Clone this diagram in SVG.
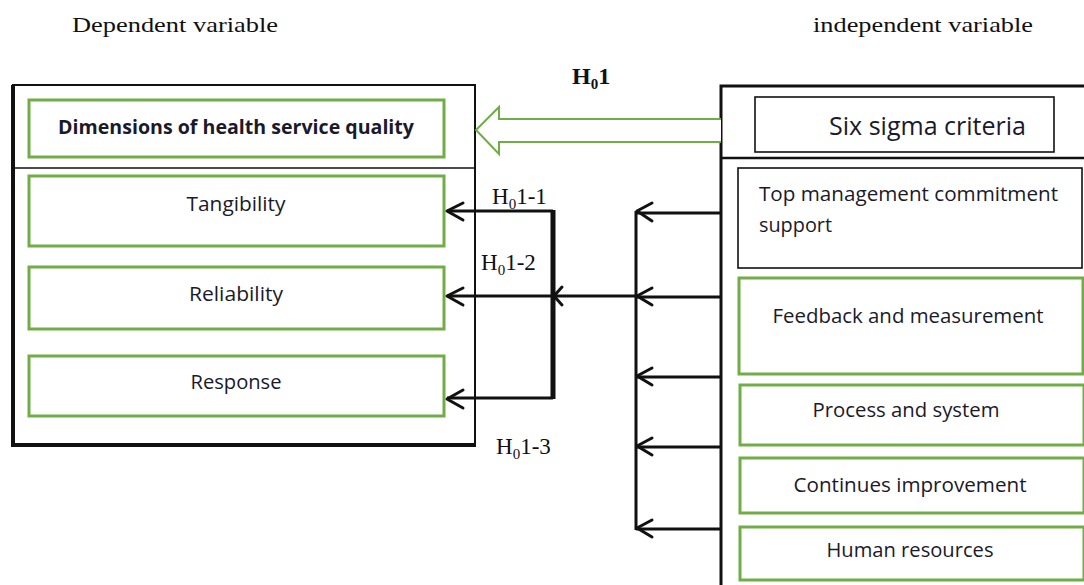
<svg xmlns="http://www.w3.org/2000/svg" width="1084" height="585" viewBox="0 0 1084 585">
  <defs>
    <style>
      .cap { font-family: "Liberation Serif", "Times New Roman", serif; font-size: 21px; fill: #111; }
      .hyp { font-family: "Liberation Serif", "Times New Roman", serif; font-size: 23px; fill: #111; }
      .hyp-b { font-family: "Liberation Serif", "Times New Roman", serif; font-size: 24px; font-weight: bold; fill: #111; }
      .sub { font-size: 15px; }
      .lbl { font-family: "Open Sans", Lato, "Liberation Sans", sans-serif; font-size: 20px; fill: #1a1a2a; }
      .lbl-b { font-family: "Open Sans", Lato, "Liberation Sans", sans-serif; font-size: 20px; font-weight: bold; fill: #1a1a2a; }
      .big { font-family: "Open Sans", Lato, "Liberation Sans", sans-serif; font-size: 26px; fill: #1a1a2a; }
      .gbox { fill: #fff; stroke: #70ad47; stroke-width: 3; }
      .kbox { fill: #fff; stroke: #111; stroke-width: 1.6; }
      .wire { fill: none; stroke: #111; stroke-width: 3; }
      .head { fill: none; stroke: #111; stroke-width: 3; stroke-linecap: round; stroke-linejoin: round; }
    </style>
  </defs>

  <!-- column captions -->
  <text class="cap" x="72" y="32" textLength="206" lengthAdjust="spacingAndGlyphs">Dependent variable</text>
  <text class="cap" x="813" y="32" textLength="220" lengthAdjust="spacingAndGlyphs">independent variable</text>

  <!-- dependent side frame -->
  <g id="dependent-frame">
    <rect x="13" y="85" width="462" height="360" fill="#fff" stroke="#111" stroke-width="2"/>
    <path d="M13 85 V446" stroke="#111" stroke-width="4"/>
    <path d="M11 445 H476" stroke="#111" stroke-width="4"/>
    <path d="M13 168 H475" stroke="#111" stroke-width="1.6"/>
  </g>

  <g id="node-dimensions">
    <rect class="gbox" x="29" y="100" width="415" height="57"/>
    <text class="lbl-b" x="236" y="134" text-anchor="middle" textLength="356" lengthAdjust="spacingAndGlyphs">Dimensions of health service quality</text>
  </g>
  <g id="node-tangibility">
    <rect class="gbox" x="29" y="176" width="415" height="70"/>
    <text class="lbl" x="236" y="211" text-anchor="middle" textLength="99" lengthAdjust="spacingAndGlyphs">Tangibility</text>
  </g>
  <g id="node-reliability">
    <rect class="gbox" x="29" y="267" width="415" height="62"/>
    <text class="lbl" x="236" y="301" text-anchor="middle" textLength="94" lengthAdjust="spacingAndGlyphs">Reliability</text>
  </g>
  <g id="node-response">
    <rect class="gbox" x="29" y="356" width="415" height="60"/>
    <text class="lbl" x="236" y="389" text-anchor="middle" textLength="91" lengthAdjust="spacingAndGlyphs">Response</text>
  </g>

  <!-- independent side frame -->
  <g id="independent-frame">
    <path d="M721 585 V86 H1084" fill="none" stroke="#111" stroke-width="3"/>
    <path d="M721 158 H1084" stroke="#111" stroke-width="2.5"/>
  </g>

  <g id="node-six-sigma">
    <rect class="kbox" x="755" y="97" width="299" height="55"/>
    <text class="big" x="829" y="135" textLength="197" lengthAdjust="spacingAndGlyphs">Six sigma criteria</text>
  </g>
  <g id="node-top-management">
    <rect class="kbox" x="738" y="168" width="344" height="100"/>
    <text class="lbl" x="759" y="201" textLength="299" lengthAdjust="spacingAndGlyphs">Top management commitment</text>
    <text class="lbl" x="759" y="232" textLength="73" lengthAdjust="spacingAndGlyphs">support</text>
  </g>
  <g id="node-feedback">
    <rect class="gbox" x="739" y="278" width="344" height="96"/>
    <text class="lbl" x="908" y="323" text-anchor="middle" textLength="271" lengthAdjust="spacingAndGlyphs">Feedback and measurement</text>
  </g>
  <g id="node-process">
    <rect class="gbox" x="740" y="385" width="344" height="60"/>
    <text class="lbl" x="906" y="417" text-anchor="middle" textLength="187" lengthAdjust="spacingAndGlyphs">Process and system</text>
  </g>
  <g id="node-improvement">
    <rect class="gbox" x="740" y="458" width="344" height="55"/>
    <text class="lbl" x="910" y="492" text-anchor="middle" textLength="233" lengthAdjust="spacingAndGlyphs">Continues improvement</text>
  </g>
  <g id="node-human">
    <rect class="gbox" x="740" y="527" width="344" height="53"/>
    <text class="lbl" x="910" y="557" text-anchor="middle" textLength="167" lengthAdjust="spacingAndGlyphs">Human resources</text>
  </g>

  <!-- connectors -->
  <g id="connectors">
    <!-- main hypothesis: hollow block arrow -->
    <path d="M721 119 H499 V107 L476 130 L499 154 V142 H721" fill="#fff" stroke="#70ad47" stroke-width="2"/>

    <!-- criteria feeders into the collecting bus -->
    <path class="wire" d="M636 211 V530"/>
    <path class="wire" d="M720 213 H636"/>
    <path class="wire" d="M720 297 H636"/>
    <path class="wire" d="M720 377 H636"/>
    <path class="wire" d="M720 447 H636"/>
    <path class="wire" d="M720 529 H636"/>
    <path class="head" d="M652 203 L637 211 L652 221"/>
    <path class="head" d="M652 288 L637 296 L652 305"/>
    <path class="head" d="M652 368 L637 376 L652 385"/>
    <path class="head" d="M652 438 L637 446 L652 455"/>
    <path class="head" d="M652 520 L637 528 L652 537"/>

    <!-- bus to the quality dimensions -->
    <path class="wire" d="M636 296 H447"/>
    <path d="M553 210 V399" stroke="#111" stroke-width="5" fill="none"/>
    <path class="wire" d="M553 211 H447"/>
    <path class="wire" d="M553 398 H447"/>
    <path class="head" d="M562 287 L554 296 L562 305"/>
    <path class="head" d="M463 203 L447 211 L463 220"/>
    <path class="head" d="M463 288 L447 296 L463 305"/>
    <path class="head" d="M463 390 L447 399 L463 408"/>
  </g>

  <!-- hypothesis labels -->
  <text class="hyp-b" x="572" y="84">H<tspan class="sub" dy="5">0</tspan><tspan dy="-5">1</tspan></text>
  <text class="hyp" x="492" y="204">H<tspan class="sub" dy="5">0</tspan><tspan dy="-5">1-1</tspan></text>
  <text class="hyp" x="481" y="270">H<tspan class="sub" dy="5">0</tspan><tspan dy="-5">1-2</tspan></text>
  <text class="hyp" x="496" y="454">H<tspan class="sub" dy="5">0</tspan><tspan dy="-5">1-3</tspan></text>
</svg>
